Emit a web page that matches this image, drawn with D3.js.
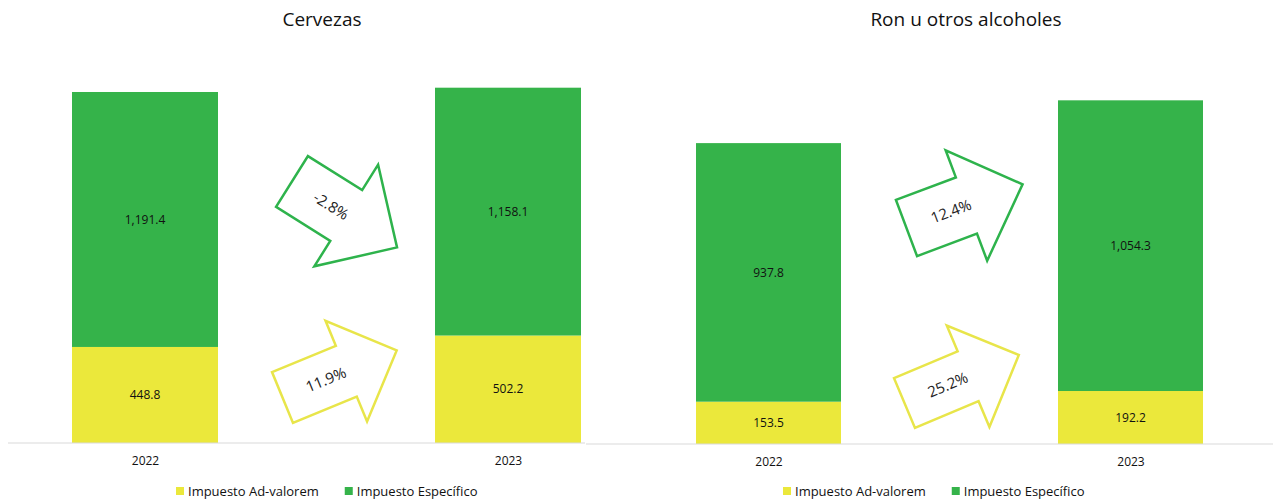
<!DOCTYPE html>
<html>
<head>
<meta charset="utf-8">
<script src="https://cdn.jsdelivr.net/npm/d3@7"></script>
<style>
  body { margin: 0; background: #fff; }
  svg { display: block; font-family: "Open Sans", sans-serif; }
</style>
</head>
<body>
<svg id="chart" width="1273" height="499"></svg>
<script>
// data
const years = ["2022", "2023"];
const seriesNames = ["Impuesto Ad-valorem", "Impuesto Específico"];
const cervezasAdValorem = [448.8, 502.2];
const cervezasEspecifico = [1191.4, 1158.1];
const ronAdValorem = [153.5, 192.2];
const ronEspecifico = [937.8, 1054.3];

const yellow = "#ebe83b",
      green = "#35b34a",
      yellowLine = "#e8e54a",
      greenLine = "#2eb34c";

const svg = d3.select("#chart");

// layout of the two panels
const panels = [
  { title: "Cervezas", ad: cervezasAdValorem, esp: cervezasEspecifico,
    centers: [145, 508], barW: 146, base: 443, yMax: 2000, yTop: 15,
    titleX: 322, axisX: [8, 585], legendX: 176,
    arrows: [
      { tail: [282.5, 397.5], angle: -22.4, w: 55, hw: 109, sl: 69, hl: 54.5, t: 47 },
      { tail: [292, 181.5], angle: 32.1, w: 60, hw: 120, sl: 64, hl: 60, t: 46 }
    ] },
  { title: "Ron u otros alcoholes", ad: ronAdValorem, esp: ronEspecifico,
    centers: [768.5, 1130.5], barW: 145, base: 444, yMax: 1400, yTop: 58,
    titleX: 966, axisX: [586, 1273], legendX: 783,
    arrows: [
      { tail: [904.5, 403], angle: -22.8, w: 54, hw: 110, sl: 69, hl: 55, t: 47 },
      { tail: [906.5, 228], angle: -20.6, w: 60, hw: 118, sl: 64, hl: 60, t: 47.6 }
    ] }
];

const fmt = d3.format(",.1f");
// plain hyphen for negatives, as in the source
const pct = v => d3.format(".1%")(v).replace("\u2212", "-");

// block arrow outline, pointing along +x from the tail middle
const arrowPath = (a) => {
  const pts = [
    [0, -a.w / 2], [a.sl, -a.w / 2], [a.sl, -a.hw / 2], [a.sl + a.hl, 0],
    [a.sl, a.hw / 2], [a.sl, a.w / 2], [0, a.w / 2]
  ];
  return "M" + pts.map(p => p.join(",")).join("L") + "Z";
};

panels.forEach(p => {
  const x = d3.scalePoint().domain(years).range(p.centers);
  const y = d3.scaleLinear().domain([0, p.yMax]).range([p.base, p.yTop]);

  const stacked = years.map((yr, i) => ({
    year: yr,
    segs: [
      { key: seriesNames[0], v0: 0, v1: p.ad[i], color: yellow },
      { key: seriesNames[1], v0: p.ad[i], v1: p.ad[i] + p.esp[i], color: green }
    ]
  }));

  const g = svg.append("g");

  // title
  g.append("text")
    .attr("x", p.titleX).attr("y", 26)
    .attr("text-anchor", "middle")
    .style("font-size", "19px").style("fill", "#111")
    .text(p.title);

  // bars
  const bar = g.selectAll("g.bar").data(stacked).enter().append("g").attr("class", "bar");
  bar.selectAll("rect").data(d => d.segs.map(s => ({ ...s, year: d.year }))).enter()
    .append("rect")
    .attr("x", d => x(d.year) - p.barW / 2)
    .attr("width", p.barW)
    .attr("y", d => y(d.v1))
    .attr("height", d => y(d.v0) - y(d.v1))
    .attr("fill", d => d.color);

  bar.selectAll("text").data(d => d.segs.map(s => ({ ...s, year: d.year }))).enter()
    .append("text")
    .attr("x", d => x(d.year))
    .attr("y", d => (y(d.v0) + y(d.v1)) / 2)
    .attr("dy", "0.35em")
    .attr("text-anchor", "middle")
    .style("font-size", "12px").style("fill", "#111")
    .text(d => fmt(d.v1 - d.v0));

  // x axis
  const xAxis = d3.axisBottom(x).tickSize(0).tickPadding(13);
  const ax = g.append("g").attr("transform", "translate(0," + p.base + ")").call(xAxis);
  ax.select(".domain").remove();
  ax.append("line")
    .attr("x1", p.axisX[0]).attr("x2", p.axisX[1])
    .attr("stroke", "#d9d9d9").attr("stroke-width", 1.2);
  ax.selectAll(".tick text")
    .style("font-size", "12px").style("fill", "#111")
    .style("font-family", "'Open Sans', sans-serif");

  // change arrows
  const changes = [
    { v: p.ad[1] / p.ad[0] - 1, stroke: yellowLine },
    { v: p.esp[1] / p.esp[0] - 1, stroke: greenLine }
  ];
  changes.forEach((c, i) => {
    const a = p.arrows[i];
    const ag = g.append("g")
      .attr("transform", "translate(" + a.tail[0] + "," + a.tail[1] + ") rotate(" + a.angle + ")");
    ag.append("path")
      .attr("d", arrowPath(a))
      .attr("fill", "#fff")
      .attr("stroke", c.stroke)
      .attr("stroke-width", 2.5)
      .attr("stroke-linejoin", "miter");
    ag.append("text")
      .attr("x", a.t).attr("y", 0).attr("dy", "0.35em")
      .attr("text-anchor", "middle")
      .style("font-size", "15px").style("fill", "#222")
      .text(pct(c.v));
  });

  // legend
  const lg = g.append("g").attr("transform", "translate(" + p.legendX + ",491)");
  let off = 0;
  seriesNames.forEach((name, i) => {
    lg.append("rect")
      .attr("x", off).attr("y", -4).attr("width", 8).attr("height", 8)
      .attr("fill", i === 0 ? yellow : green);
    const t = lg.append("text")
      .attr("x", off + 12).attr("y", 0).attr("dy", "0.35em")
      .style("font-size", "13px").style("fill", "#111")
      .text(name);
    off += 12 + t.node().getComputedTextLength() + 26;
  });
});
</script>
</body>
</html>
